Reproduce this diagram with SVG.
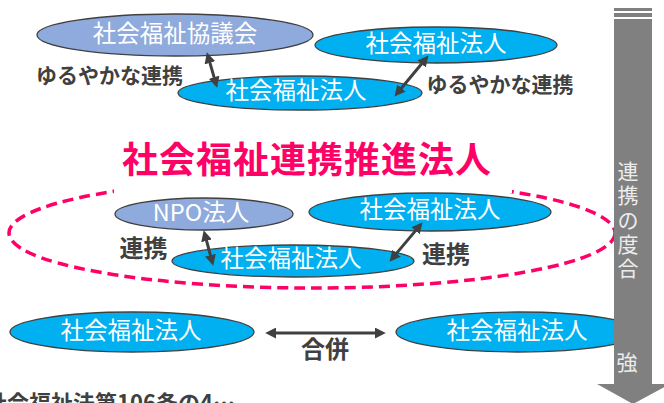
<svg xmlns="http://www.w3.org/2000/svg" width="664" height="403" viewBox="0 0 664 403">
<defs>
<style>
.e{stroke:#404040;stroke-width:1.3}
.b{fill:#00b0f0}
.v{fill:#8faadc}
.t{font-family:"Noto Sans CJK JP","Noto Sans",sans-serif;font-size:23.5px;fill:#ffffff;text-anchor:middle}
.l{font-family:"Noto Sans CJK JP","Noto Sans",sans-serif;font-weight:bold;fill:#404040;text-anchor:middle}
.c{stroke:#404040;stroke-width:3;fill:none;marker-start:url(#ah);marker-end:url(#ah)}
.g{font-family:"Noto Sans CJK JP","Noto Sans",sans-serif;font-size:21px;fill:#ececec;text-anchor:middle}
</style>
<marker id="ah" viewBox="0 0 10 10" refX="2" refY="5" markerWidth="11" markerHeight="11" markerUnits="userSpaceOnUse" orient="auto-start-reverse">
<path d="M0,0 L10,5 L0,10 z" fill="#404040"/>
</marker>
</defs>
<rect width="664" height="403" fill="#ffffff"/>

<g id="range">
<ellipse cx="312" cy="233" rx="303" ry="55" fill="none" stroke="#ff0066" stroke-width="3.5" stroke-dasharray="11 6"/>
<rect x="114" y="125" width="398" height="68" fill="#ffffff"/>
</g>

<g id="title"><text x="307" y="173" class="l" style="font-size:36px;fill:#ff0066;letter-spacing:1px">社会福祉連携推進法人</text></g>

<g id="n1"><ellipse cx="175" cy="35" rx="138" ry="21" class="e v"/><text x="175" y="42" class="t">社会福祉協議会</text></g>
<g id="n2"><ellipse cx="436" cy="45" rx="121" ry="18" class="e b"/><text x="436" y="52" class="t">社会福祉法人</text></g>
<g id="n3"><ellipse cx="300" cy="93" rx="122" ry="17" class="e b"/><text x="296" y="99" class="t">社会福祉法人</text></g>
<g id="n4"><ellipse cx="204" cy="214" rx="89" ry="16" class="e v"/><text x="201" y="220.5" class="t">NPO法人</text></g>
<g id="n5"><ellipse cx="430" cy="212" rx="121" ry="19" class="e b"/><text x="430" y="218" class="t">社会福祉法人</text></g>
<g id="n6"><ellipse cx="293" cy="261" rx="121" ry="16" class="e b"/><text x="291" y="267" class="t">社会福祉法人</text></g>
<g id="n7"><ellipse cx="132" cy="332" rx="122" ry="20" class="e b"/><text x="131" y="339" class="t">社会福祉法人</text></g>
<g id="n8"><ellipse cx="518" cy="332" rx="122" ry="20" class="e b"/><text x="517" y="339" class="t">社会福祉法人</text></g>

<g id="connectors">
<line x1="209.3" y1="60.7" x2="214.7" y2="79.3" class="c"/>
<line x1="422.9" y1="62.2" x2="400.1" y2="89.8" class="c"/>
<line x1="206.0" y1="238.7" x2="211.0" y2="257.3" class="c"/>
<line x1="416.9" y1="229.1" x2="395.2" y2="254.9" class="c"/>
<line x1="274" y1="333" x2="377" y2="333" class="c"/>
</g>

<g id="labels">
<text x="109.5" y="82.5" class="l" style="font-size:21px">ゆるやかな連携</text>
<text x="500" y="92" class="l" style="font-size:21px">ゆるやかな連携</text>
<text x="143.5" y="256.5" class="l" style="font-size:24px">連携</text>
<text x="446" y="263" class="l" style="font-size:24px">連携</text>
<text x="325" y="358" class="l" style="font-size:24px">合併</text>
<text x="-15" y="410.5" class="l" style="font-size:22px;text-anchor:start">社会福祉法第106条の4…</text>
</g>

<g id="degree">
<rect x="614" y="8" width="38" height="3" fill="#808080"/>
<rect x="614" y="13" width="38" height="4" fill="#808080"/>
<rect x="614" y="19" width="38" height="366" fill="#808080"/>
<polygon points="597,384 670,384 633,404" fill="#808080"/>
<text class="g"><tspan x="628" y="178.5">連</tspan><tspan x="628" y="202.5">携</tspan><tspan x="628" y="228">の</tspan><tspan x="628" y="252">度</tspan><tspan x="628" y="276">合</tspan></text>
<text x="627" y="369.5" class="g">強</text>
</g>
</svg>
